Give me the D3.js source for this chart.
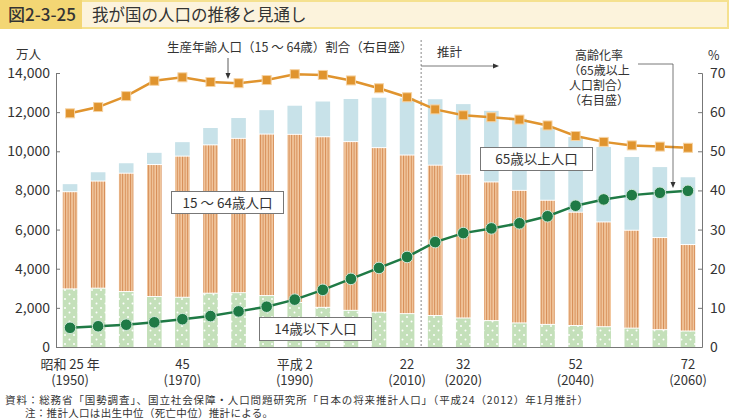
<!DOCTYPE html>
<html><head><meta charset="utf-8">
<script src="https://cdn.jsdelivr.net/npm/d3@7"></script>
<style>
body{margin:0;background:#fff;}
text{font-family:"Noto Sans CJK JP","Noto Sans",sans-serif;fill:#333;}
</style></head><body>
<svg id="c" width="730" height="418"></svg>
<script>
const years = [1950,1955,1960,1965,1970,1975,1980,1985,1990,1995,2000,2005,2010,2015,2020,2025,2030,2035,2040,2045,2050,2055,2060];
const under15 = [2943,2980,2807,2553,2515,2722,2751,2603,2249,2001,1847,1752,1680,1583,1457,1324,1204,1129,1073,1012,939,861,791];
const working = [4966,5473,6047,6744,7212,7581,7883,8251,8590,8716,8622,8409,8103,7682,7341,7085,6773,6343,5787,5353,5001,4706,4418];
const aged = [411,475,535,624,739,887,1065,1247,1489,1826,2204,2576,2925,3395,3612,3657,3685,3741,3868,3856,3768,3626,3464];
const workingRatio = [59.7,61.3,64.1,68.0,68.9,67.7,67.4,68.2,69.7,69.5,68.1,66.1,63.8,60.7,59.2,58.7,58.1,56.6,53.9,52.4,51.5,51.2,50.9];
const agedRatio = [4.9,5.3,5.7,6.3,7.1,7.9,9.1,10.3,12.1,14.6,17.4,20.2,23.0,26.8,29.1,30.3,31.6,33.4,36.1,37.7,38.8,39.4,39.9];
const leftTicks = [0,2000,4000,6000,8000,10000,12000,14000];
const rightTicks = [0,10,20,30,40,50,60,70];
const xLabelYears = [1950,1970,1990,2010,2020,2040,2060];
const xLabels1 = ["昭和 25 年","45","平成 2","22","32","52","72"];
const xLabels2 = ["(1950)","(1970)","(1990)","(2010)","(2020)","(2040)","(2060)"];

const svg = d3.select("#c");
const defs = svg.append("defs");
const sp = defs.append("pattern").attr("id","stripe").attr("patternUnits","userSpaceOnUse").attr("width",2.6).attr("height",10);
sp.append("rect").attr("width",2.6).attr("height",10).attr("fill","#f2c8a0");
sp.append("rect").attr("x",0).attr("width",1).attr("height",10).attr("fill","#d68c55");
const dp = defs.append("pattern").attr("id","dots").attr("patternUnits","userSpaceOnUse").attr("width",9).attr("height",9);
dp.append("rect").attr("width",9).attr("height",9).attr("fill","#c4e0ba");
dp.append("circle").attr("cx",2).attr("cy",2).attr("r",1).attr("fill","#fff");
dp.append("circle").attr("cx",6.5).attr("cy",6.5).attr("r",1).attr("fill","#fff");

// Title bar
svg.append("rect").attr("x",1).attr("y",1).attr("width",727).attr("height",27).attr("fill","#fcf3dc").attr("stroke","#f5e18f").attr("stroke-width",2);
svg.append("rect").attr("x",0).attr("y",0).attr("width",82).attr("height",29).attr("fill","#f3d674");
svg.append("text").attr("x",8).attr("y",21).attr("font-size",17).attr("font-weight",500).text("図2-3-25");
svg.append("text").attr("x",92).attr("y",21).attr("font-size",16.5).text("我が国の人口の推移と見通し");

const x = d3.scaleBand().domain(years).range([56,702]).paddingInner(0.48).paddingOuter(0.24);
const yL = d3.scaleLinear().domain([0,14000]).range([347,73]);
const yR = d3.scaleLinear().domain([0,70]).range([347,73]);
const cx = d => x(d)+x.bandwidth()/2;

const g = svg.append("g");
years.forEach((yr,i)=>{
  const a = under15[i], b = a+working[i], c = b+aged[i];
  g.append("rect").attr("x",x(yr)).attr("width",x.bandwidth()).attr("y",yL(a)).attr("height",yL(0)-yL(a)).attr("fill","url(#dots)");
  g.append("rect").attr("x",x(yr)).attr("width",x.bandwidth()).attr("y",yL(b)).attr("height",yL(a)-yL(b)-1).attr("fill","url(#stripe)");
  g.append("rect").attr("x",x(yr)).attr("width",x.bandwidth()).attr("y",yL(c)).attr("height",yL(b)-yL(c)-1).attr("fill","#c8e2e9");
});

const axL = d3.axisLeft(yL).tickValues(leftTicks).tickSize(-4).tickPadding(6).tickFormat(d3.format(","));
const gl = svg.append("g").attr("transform","translate(56,0)").call(axL);
const axR = d3.axisRight(yR).tickValues(rightTicks).tickSize(-4).tickPadding(8);
const gr = svg.append("g").attr("transform","translate(702,0)").call(axR);
[gl,gr].forEach(ga=>{
  ga.select(".domain").attr("stroke","#777");
  ga.selectAll(".tick line").attr("stroke","#777");
  ga.selectAll(".tick text").attr("font-size",14).attr("fill","#333").style("font-family","'Noto Sans CJK JP',sans-serif");
});
svg.append("line").attr("x1",56).attr("x2",702).attr("y1",347.5).attr("y2",347.5).attr("stroke","#777");
svg.append("text").attr("x",16).attr("y",59).attr("font-size",12.5).text("万人");
svg.append("text").attr("x",708).attr("y",60).attr("font-size",12.5).text("%");

xLabelYears.forEach((yr,i)=>{
  svg.append("text").attr("x",cx(yr)).attr("y",368.5).attr("text-anchor","middle").attr("font-size",13).text(xLabels1[i]);
  svg.append("text").attr("x",cx(yr)).attr("y",384.5).attr("text-anchor","middle").attr("font-size",13).text(xLabels2[i]);
});

const divX = (cx(2010)+cx(2015))/2;
svg.append("line").attr("x1",divX).attr("x2",divX).attr("y1",40).attr("y2",347).attr("stroke","#888").attr("stroke-dasharray","2,2");
svg.append("text").attr("x",437).attr("y",57).attr("font-size",12.5).text("推計");
svg.append("line").attr("x1",divX).attr("x2",494).attr("y1",66).attr("y2",66).attr("stroke","#555").attr("stroke-width",0.8);
svg.append("path").attr("d",`M499,66 L493,63.5 L493,68.5 Z`).attr("fill","#333");

const lineW = d3.line().x((d,i)=>cx(years[i])).y(d=>yR(d));
svg.append("path").datum(workingRatio).attr("d",lineW).attr("fill","none").attr("stroke","#e0942e").attr("stroke-width",2.5);
svg.append("path").datum(agedRatio).attr("d",lineW).attr("fill","none").attr("stroke","#1f7a45").attr("stroke-width",2.5);
svg.selectAll(".sq").data(workingRatio).enter().append("rect")
  .attr("x",(d,i)=>cx(years[i])-4.5).attr("y",d=>yR(d)-4.5).attr("width",9).attr("height",9)
  .attr("fill","#e0942e").attr("stroke","#f6d3a3").attr("stroke-width",1);
svg.selectAll(".ci").data(agedRatio).enter().append("circle")
  .attr("cx",(d,i)=>cx(years[i])).attr("cy",d=>yR(d)).attr("r",5.8)
  .attr("fill","#1f7a45").attr("stroke","#cfe6d7").attr("stroke-width",1);

svg.append("text").attr("x",167).attr("y",52).attr("font-size",12.5).text("生産年齢人口（15 ～ 64歳）割合（右目盛）");
svg.append("line").attr("x1",228).attr("x2",228).attr("y1",58).attr("y2",74).attr("stroke","#333").attr("stroke-width",0.8);
svg.append("path").attr("d","M228,79 L225.5,73 L230.5,73 Z").attr("fill","#333");

const ann = ["高齢化率","（65歳以上","人口割合）","（右目盛）"];
ann.forEach((t,i)=>svg.append("text").attr("x",599).attr("y",59.5+i*15.3).attr("text-anchor","middle").attr("font-size",12).text(t));
svg.append("path").attr("d","M638,64 L673,64 L673,182").attr("fill","none").attr("stroke","#555").attr("stroke-width",0.8);
svg.append("path").attr("d","M673,188 L670.5,182 L675.5,182 Z").attr("fill","#333");

function box(x0,y0,w,h,t){
  svg.append("rect").attr("x",x0).attr("y",y0).attr("width",w).attr("height",h).attr("fill","#fff").attr("stroke","#777").attr("stroke-width",1);
  svg.append("text").attr("x",x0+w/2).attr("y",y0+h/2+5).attr("text-anchor","middle").attr("font-size",13.5).text(t);
}
box(171.5,191.5,112,22,"15 ～ 64歳人口");
box(480.5,147.5,112,23,"65歳以上人口");
box(259.5,317.5,112,23,"14歳以下人口");

svg.append("text").attr("x",5).attr("y",404).attr("font-size",10.5).attr("textLength",583).attr("lengthAdjust","spacing").text("資料：総務省「国勢調査」、国立社会保障・人口問題研究所「日本の将来推計人口」（平成24（2012）年1月推計）");
svg.append("text").attr("x",25).attr("y",416.5).attr("font-size",10.5).attr("textLength",248).attr("lengthAdjust","spacing").text("注：推計人口は出生中位（死亡中位）推計による。");
</script></body></html>
